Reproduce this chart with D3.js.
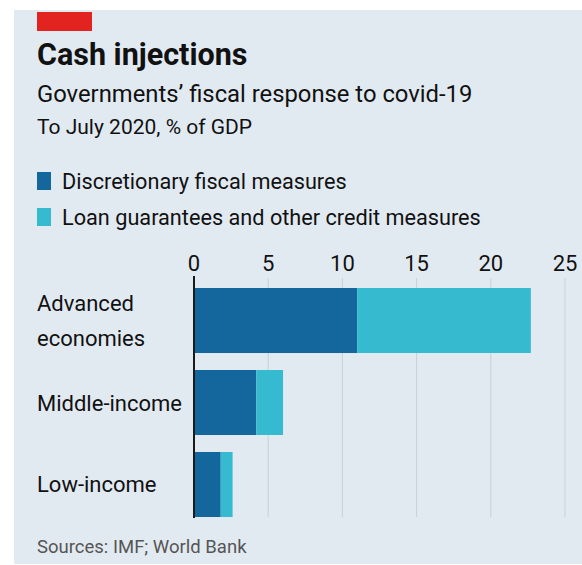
<!DOCTYPE html>
<html>
<head>
<meta charset="utf-8">
<script src="https://cdn.jsdelivr.net/npm/d3@7"></script>
<style>
  body { margin: 0; background: #fff; }
  text { font-family: Roboto, "Open Sans", sans-serif; fill: #111; }
  .grid line { stroke: #c9d0d6; stroke-width: 1; }
</style>
</head>
<body>
<div id="chart"></div>
<script>
const ancho = 582;
const alto = 565;

// datos
const categorias = ["Advanced economies", "Middle-income", "Low-income"];
const discrecional = [11.0, 4.2, 1.8];
const prestamos = [11.7, 1.8, 0.8];
const series = ["Discretionary fiscal measures", "Loan guarantees and other credit measures"];
const colores = ["#14679d", "#36bad0"];
const ticks = [0, 5, 10, 15, 20, 25];

const svg = d3.select("#chart").append("svg")
  .attr("width", ancho)
  .attr("height", alto);

// fondo
svg.append("rect")
  .attr("x", 14).attr("y", 10)
  .attr("width", ancho - 14).attr("height", 554)
  .attr("fill", "#e2eaf1");

svg.append("rect")
  .attr("x", 37).attr("y", 12)
  .attr("width", 55).attr("height", 19)
  .attr("fill", "#e3231f");

svg.append("text")
  .attr("x", 37).attr("y", 65)
  .attr("font-size", 30.5).attr("font-weight", "bold")
  .text("Cash injections");

svg.append("text")
  .attr("x", 37).attr("y", 102)
  .attr("font-size", 23.8)
  .text("Governments\u2019 fiscal response to covid-19");

svg.append("text")
  .attr("x", 37).attr("y", 134)
  .attr("font-size", 21)
  .text("To July 2020, % of GDP");

// leyenda
const leyenda = svg.selectAll(".leg")
  .data(series)
  .enter()
  .append("g")
  .attr("transform", (d, i) => `translate(37,${172 + i * 36})`);

leyenda.append("rect")
  .attr("width", 14).attr("height", 18)
  .attr("fill", (d, i) => colores[i]);

leyenda.append("text")
  .attr("x", 25).attr("y", 17)
  .attr("font-size", 21.7)
  .text(d => d);

// escalas
const x = d3.scaleLinear().domain([0, 25]).range([194, 565]);
const y = d3.scaleBand().domain(categorias).range([288, 517]).paddingInner(0.207).paddingOuter(0);

// rejilla
const grid = svg.append("g").attr("class", "grid");
grid.selectAll("line")
  .data(ticks.slice(1))
  .enter()
  .append("line")
  .attr("x1", d => x(d)).attr("x2", d => x(d))
  .attr("y1", 278).attr("y2", 517);

svg.selectAll(".tick-label")
  .data(ticks)
  .enter()
  .append("text")
  .attr("class", "tick-label")
  .attr("x", d => x(d))
  .attr("y", 271)
  .attr("text-anchor", "middle")
  .attr("font-size", 22)
  .text(d => d);

// barras apiladas
const pila = d3.stack().keys([0, 1])(categorias.map((c, i) => ({ 0: discrecional[i], 1: prestamos[i], cat: c })));

svg.selectAll(".serie")
  .data(pila)
  .enter()
  .append("g")
  .attr("fill", (d, i) => colores[i])
  .selectAll("rect")
  .data(d => d)
  .enter()
  .append("rect")
  .attr("x", d => x(d[0]))
  .attr("width", d => x(d[1]) - x(d[0]))
  .attr("y", d => y(d.data.cat))
  .attr("height", y.bandwidth());

// linea del cero
svg.append("line")
  .attr("x1", x(0)).attr("x2", x(0))
  .attr("y1", 276).attr("y2", 518)
  .attr("stroke", "#1a1a1a").attr("stroke-width", 2);

// etiquetas de categoria
const etiquetas = {
  "Advanced economies": ["Advanced", "economies"],
  "Middle-income": ["Middle-income"],
  "Low-income": ["Low-income"]
};

categorias.forEach(c => {
  const lineas = etiquetas[c];
  const centro = y(c) + y.bandwidth() / 2;
  const t = svg.append("text")
    .attr("x", 37)
    .attr("font-size", 22);
  lineas.forEach((l, i) => {
    t.append("tspan")
      .attr("x", 37)
      .attr("y", centro + 8 + (i - (lineas.length - 1) / 2) * 35)
      .text(l);
  });
});

svg.append("text")
  .attr("x", 37).attr("y", 553)
  .attr("font-size", 18.5)
  .style("fill", "#555")
  .text("Sources: IMF; World Bank");
</script>
</body>
</html>
